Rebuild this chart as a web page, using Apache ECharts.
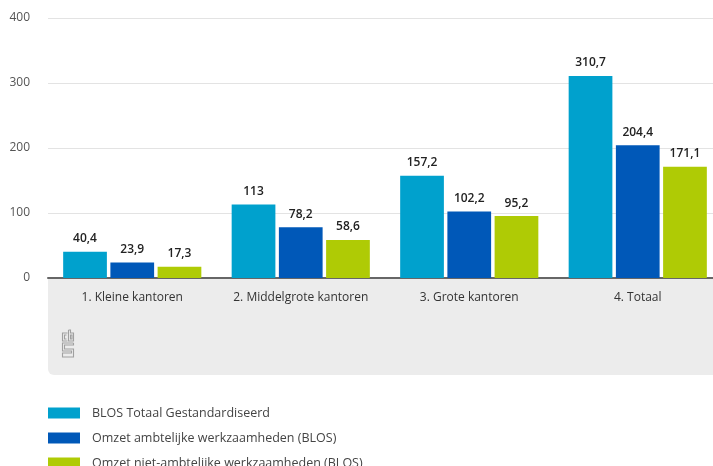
<!DOCTYPE html>
<html><head><meta charset="utf-8">
<script src="https://cdn.jsdelivr.net/npm/echarts@6/dist/echarts.min.js"></script>
<style>html,body{margin:0;padding:0;background:#fff;overflow:hidden;width:713px;height:466px}#c{width:722px;height:466px}</style>
</head><body><div id="c"></div>
<script>
const categories = ['1. Kleine kantoren', '2. Middelgrote kantoren', '3. Grote kantoren', '4. Totaal'];
const seriesNames = ['BLOS Totaal Gestandardiseerd', 'Omzet ambtelijke werkzaamheden (BLOS)', 'Omzet niet-ambtelijke werkzaamheden (BLOS)'];
const blosTotaal = [40.4, 113, 157.2, 310.7];
const omzetAmbtelijk = [23.9, 78.2, 102.2, 204.4];
const omzetNietAmbtelijk = [17.3, 58.6, 95.2, 171.1];
const yTicks = [0, 100, 200, 300, 400];
const colors = ['#00a1cd', '#0058b8', '#afcb05'];
const font = '"Open Sans", "Noto Sans", sans-serif';

const chart = echarts.init(document.getElementById('c'), null, {renderer: 'canvas'});
const dataSets = [blosTotaal, omzetAmbtelijk, omzetNietAmbtelijk];
const fmt = v => String(v).replace('.', ',');
const logoStyle = {stroke: '#a0a0a0', lineWidth: 1.1, fill: null};

chart.setOption({
  animation: false,
  color: colors,
  grid: {left: 48, top: 18, right: 0, height: 260, containLabel: false},
  graphic: [
    {type: 'rect', z: -10, shape: {x: 48, y: 278, width: 690, height: 97, r: [0, 0, 0, 6]}, style: {fill: '#ececec'}},
    {type: 'group', x: 62.5, y: 330, children: [
      {type: 'polyline', shape: {points: [[5, 3], [0, 3], [0, 11], [5, 11]]}, style: logoStyle},
      {type: 'polyline', shape: {points: [[4, 9], [2, 9], [2, 5], [4, 5]]}, style: logoStyle},
      {type: 'polyline', shape: {points: [[6, 0], [6, 11], [11, 11], [11, 3], [8, 3], [8, 0], [6, 0]]}, style: logoStyle},
      {type: 'rect', shape: {x: 8, y: 5, width: 1.5, height: 4}, style: logoStyle},
      {type: 'polyline', shape: {points: [[11, 13], [0, 13], [0, 21], [9, 21], [9, 23], [0, 23], [0, 27], [11, 27], [11, 19], [2, 19], [2, 15], [11, 15], [11, 13]]}, style: logoStyle}
    ]}
  ],
  legend: {
    orient: 'vertical', left: 43, top: 400, height: 120, itemWidth: 32, itemHeight: 11, itemGap: 9,
    icon: 'rect', textStyle: {fontFamily: font, fontSize: 12.5, color: '#444', padding: [0, 0, 0, 7], lineHeight: 16},
    data: seriesNames
  },
  xAxis: {
    type: 'category', data: categories,
    axisLine: {lineStyle: {color: '#666', width: 2}},
    axisTick: {show: false},
    axisLabel: {interval: 0, fontFamily: font, fontSize: 12, color: '#333', margin: 14}
  },
  yAxis: {
    type: 'value', min: 0, max: 400, interval: 100,
    axisLine: {show: false}, axisTick: {show: false},
    splitLine: {lineStyle: {color: '#e3e3e3', width: 1}},
    axisLabel: {fontFamily: font, fontSize: 12, color: '#555', margin: 18,
      formatter: v => yTicks.includes(v) ? String(v) : ''}
  },
  series: dataSets.map((d, i) => ({
    name: seriesNames[i], type: 'bar', data: d,
    barGap: '8%', barCategoryGap: '18%',
    label: {show: true, position: 'top', distance: 7, fontFamily: font, fontSize: 12, fontWeight: 600, color: '#222', formatter: p => fmt(p.value)}
  }))
});
</script></body></html>
